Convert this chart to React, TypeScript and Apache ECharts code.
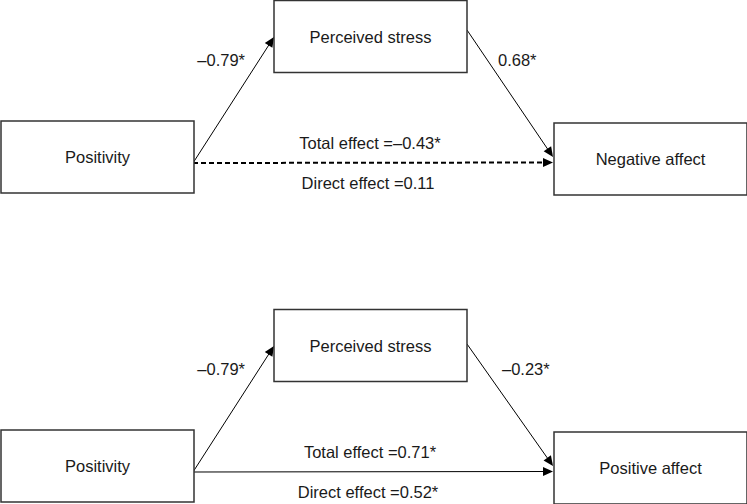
import React, { useEffect, useRef } from "react";
import * as echarts from "echarts";

// ---- Data ----
const predictors = ["Positivity", "Positivity"];
const mediators = ["Perceived stress", "Perceived stress"];
const outcomes = ["Negative affect", "Positive affect"];
const pathA = ["\u20130.79*", "\u20130.79*"];
const pathB = ["0.68*", "\u20130.23*"];
const totalEffects = ["\u20130.43*", "0.71*"];
const directEffects = ["0.11", "0.52*"];
const directSignificant = [false, true];

// ---- Layout ----
const W = 747;
const H = 504;
const panelTop = [0, 309];
const FONT = "'Liberation Sans', Arial, sans-serif";
const FS = 16.5;
const TEXT = "#1a1a1a";
const BOX = { w: 193, h: 72 };
const predBox = { x: 1, y: 121 };
const medBox = { x: 274, y: 0.5 };
const outBox = { x: 554, y: 123 };

function arrow(x1: number, y1: number, x2: number, y2: number, dashed: boolean) {
  const len = 10;
  const hw = 4.5;
  const dx = x2 - x1;
  const dy = y2 - y1;
  const d = Math.sqrt(dx * dx + dy * dy);
  const ux = dx / d;
  const uy = dy / d;
  const bx = x2 - ux * len;
  const by = y2 - uy * len;
  const px = -uy;
  const py = ux;
  return [
    {
      type: "line",
      shape: { x1, y1, x2: bx + ux * 1, y2: by + uy * 1 },
      style: {
        stroke: "#000",
        lineWidth: dashed ? 2 : 1,
        lineDash: dashed ? [5, 3] : undefined,
      },
    },
    {
      type: "polygon",
      shape: {
        points: [
          [x2, y2],
          [bx + px * hw, by + py * hw],
          [bx - px * hw, by - py * hw],
        ],
      },
      style: { fill: "#000" },
    },
  ];
}

function box(x: number, y: number, label: string) {
  return [
    {
      type: "rect",
      shape: { x, y, width: BOX.w, height: BOX.h },
      style: { fill: "#fff", stroke: "#333", lineWidth: 1.5 },
    },
    {
      type: "text",
      x: x + BOX.w / 2,
      y: y + BOX.h / 2,
      style: {
        text: label,
        fill: TEXT,
        font: `${FS}px ${FONT}`,
        textAlign: "center",
        textVerticalAlign: "middle",
      },
    },
  ];
}

function txt(x: number, y: number, s: string, align: string) {
  return {
    type: "text",
    x,
    y,
    style: {
      text: s,
      fill: TEXT,
      font: `${FS}px ${FONT}`,
      textAlign: align,
      textVerticalAlign: "middle",
    },
  };
}

function buildPanel(i: number) {
  const t = panelTop[i];
  const lineY = t + 163;
  const els: any[] = [];
  // arrows
  els.push(...arrow(193, lineY, 553, lineY - 0.5, !directSignificant[i]));
  els.push(...arrow(193, lineY, 274, t + 37, false));
  els.push(...arrow(467, t + (i === 0 ? 30 : 35), 553, t + 157, false));
  // boxes
  els.push(...box(predBox.x, t + predBox.y, predictors[i]));
  els.push(...box(medBox.x, t + medBox.y, mediators[i]));
  els.push(...box(outBox.x, t + outBox.y, outcomes[i]));
  // labels
  els.push(txt(245, t + 60, pathA[i], "right"));
  els.push(txt(i === 0 ? 498 : 502, t + 60, pathB[i], "left"));
  els.push(txt(370, t + 143, "Total effect =" + totalEffects[i], "center"));
  els.push(txt(368, t + 183, "Direct effect =" + directEffects[i], "center"));
  return els;
}

export default function App() {
  const ref = useRef<HTMLDivElement>(null);
  useEffect(() => {
    document.body.style.margin = "0";
    const chart = echarts.init(ref.current!, undefined, { renderer: "svg" });
    chart.setOption({
      animation: false,
      backgroundColor: "#fff",
      graphic: { elements: [...buildPanel(0), ...buildPanel(1)] },
    });
    return () => chart.dispose();
  }, []);
  return <div ref={ref} style={{ width: W, height: H, position: "absolute", left: 0, top: 0 }} />;
}
